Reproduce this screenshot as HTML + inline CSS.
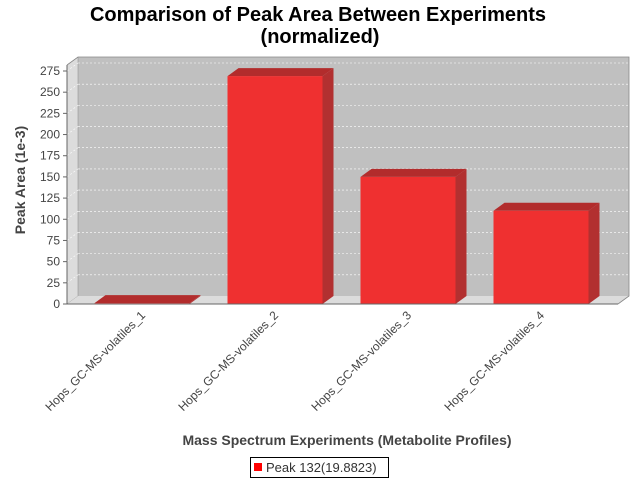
<!DOCTYPE html>
<html><head><meta charset="utf-8"><style>
body{margin:0;background:#fff}
svg{display:block;font-family:"Liberation Sans",sans-serif}
</style></head><body>
<svg id="chart" width="640" height="480" viewBox="0 0 640 480">
<rect width="640" height="480" fill="#fff"/>
<text x="318" y="21" text-anchor="middle" font-size="20" font-weight="bold" fill="#000">Comparison of Peak Area Between Experiments</text>
<text x="320" y="43" text-anchor="middle" font-size="20" font-weight="bold" fill="#000">(normalized)</text>
<g id="plot">
<rect x="78" y="57" width="551" height="239" fill="#c0c0c0"/>
<polygon points="67,65 78,57 78,296 67,304" fill="#dcdcdc" stroke="#888" stroke-width="0.5"/>
<polygon points="67,304 78,296 629,296 618,304" fill="#dcdcdc"/>
<polyline points="67,65 78,57 629,57 629,296 618,304" fill="none" stroke="#888" stroke-width="0.8"/>
<g id="grid"></g><g id="bars"></g><g id="ticks"></g><g id="cats"></g>
<line x1="67" y1="304" x2="618" y2="304" stroke="#666"/>
<line x1="67" y1="65" x2="67" y2="304" stroke="#666"/>
</g>
<text transform="translate(25,180) rotate(-90)" text-anchor="middle" font-size="14" font-weight="bold" fill="#444">Peak Area (1e-3)</text>
<text x="347" y="445" text-anchor="middle" font-size="14" font-weight="bold" fill="#444">Mass Spectrum Experiments (Metabolite Profiles)</text>
<g>
<rect x="250.5" y="457.5" width="138" height="20" fill="#fff" stroke="#000"/>
<rect x="254" y="463" width="8" height="8" fill="#f00"/>
<text x="266" y="472" font-size="13" fill="#333">Peak 132(19.8823)</text>
</g>
</svg>
<script>
const categories=["Hops_GC-MS-volatiles_1","Hops_GC-MS-volatiles_2","Hops_GC-MS-volatiles_3","Hops_GC-MS-volatiles_4"];
const values=[1,269,150,110];
const yTicks=[0,25,50,75,100,125,150,175,200,225,250,275];
const NS="http://www.w3.org/2000/svg";
const DX=11,DY=8,Y0=304,SC=233/275;
function y(v){return Y0-v*SC;}
function cx(i){return 142+i*133;}
const BW=95;
function mk(t,a,p){const e=document.createElementNS(NS,t);for(const k in a)e.setAttribute(k,a[k]);p.appendChild(e);return e;}
const grid=document.getElementById('grid'),ticks=document.getElementById('ticks'),bars=document.getElementById('bars'),cats=document.getElementById('cats');
yTicks.forEach(v=>{
  const yy=y(v);
  if(v>0){const g=mk('line',{x1:78,x2:629,y1:yy-DY,y2:yy-DY,stroke:'#fff','stroke-dasharray':'2,2','stroke-width':0.6},grid);
  
  
  mk('line',{x1:67,x2:78,y1:yy,y2:yy-DY,stroke:'#fff','stroke-dasharray':'2,2','stroke-width':0.6},grid);}
  mk('line',{x1:63,x2:67,y1:yy,y2:yy,stroke:'#666'},ticks);
  const t=mk('text',{x:60,y:yy+4,'text-anchor':'end','font-size':12,fill:'#444'},ticks);
  t.textContent=v;
  
  
});
values.forEach((v,i)=>{
  const x0=cx(i)-BW/2,x1=x0+BW,yt=y(v);
  const g=mk('g',{},bars);
  
  
  mk('polygon',{points:`${x1},${yt} ${x1+DX},${yt-DY} ${x1+DX},${Y0-DY} ${x1},${Y0}`,fill:'#b23030'},g);
  mk('polygon',{points:`${x0},${yt} ${x0+DX},${yt-DY} ${x1+DX},${yt-DY} ${x1},${yt}`,fill:'#b22c2c'},g);
  mk('rect',{x:x0,y:yt,width:BW,height:Y0-yt,fill:'#ef3030'},g);
  const t=mk('text',{transform:`translate(${cx(i)+4},316) rotate(-45)`,'text-anchor':'end','font-size':12,fill:'#444'},cats);
  t.textContent=categories[i];
  
  
});
</script>
</body></html>
